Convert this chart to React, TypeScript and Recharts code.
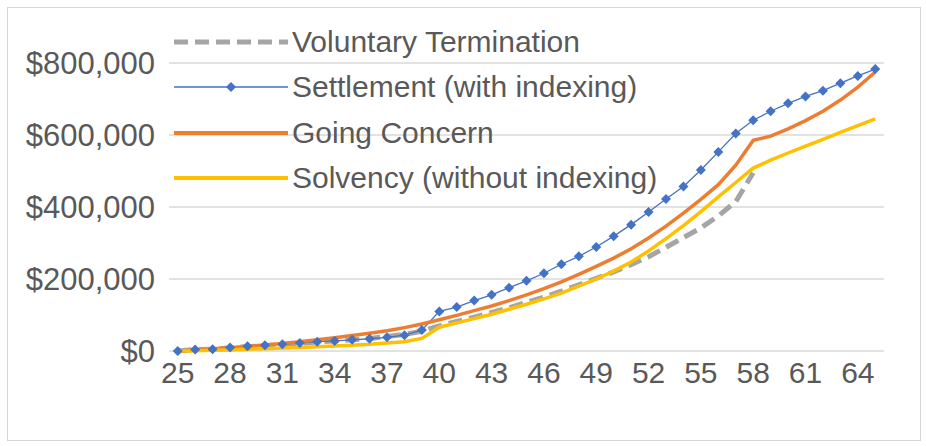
import React from 'react';
import { LineChart, Line, XAxis, YAxis, CartesianGrid, Legend } from 'recharts';

const ages = [
  25, 26, 27, 28, 29, 30, 31, 32, 33, 34, 35, 36, 37, 38, 39, 40, 41, 42, 43, 44, 45,
  46, 47, 48, 49, 50, 51, 52, 53, 54, 55, 56, 57, 58, 59, 60, 61, 62, 63, 64, 65,
];

const voluntary = [
  0, 4000, 5000, 9000, 12000, 15000, 18000, 21000, 25000, 28000, 31000, 35000, 40000, 46000, 55000, 70000,
  82000, 94000, 107000, 120000, 135000, 150000, 166000, 184000, 202000, 220000, 240000, 262000, 288000,
  315000, 342000, 375000, 415000, 495000, null, null, null, null, null, null, null,
];

const settlement = [
  0, 4000, 5000, 10000, 13000, 16000, 19000, 22000, 26000, 28000, 31000, 34000, 38000, 44000, 58000, 110000,
  122000, 140000, 156000, 176000, 195000, 216000, 241000, 263000, 289000, 319000, 351000, 386000, 422000,
  457000, 503000, 553000, 604000, 641000, 666000, 688000, 707000, 723000, 744000, 764000, 783000,
];

const goingConcern = [
  0, 3000, 6000, 9000, 13000, 17000, 21000, 26000, 31000, 37000, 43000, 49000, 56000, 65000, 75000, 87000,
  99000, 112000, 125000, 140000, 156000, 173000, 192000, 213000, 235000, 258000, 284000, 314000, 347000,
  383000, 421000, 462000, 516000, 585000, 597000, 617000, 640000, 666000, 697000, 733000, 775000,
];

const solvency = [
  0, 1000, 2000, 3000, 5000, 6000, 8000, 10000, 12000, 14000, 16000, 19000, 22000, 26000, 35000, 66000,
  78000, 90000, 102000, 116000, 130000, 145000, 161000, 180000, 200000, 222000, 247000, 278000, 312000,
  348000, 387000, 428000, 468000, 508000, 530000, 550000, 569000, 588000, 607000, 626000, 645000,
];

const xTicks = [25, 28, 31, 34, 37, 40, 43, 46, 49, 52, 55, 58, 61, 64];
const yTicks = [0, 200000, 400000, 600000, 800000];

const data = ages.map((age, i) => ({
  age,
  voluntary: voluntary[i],
  settlement: settlement[i],
  goingConcern: goingConcern[i],
  solvency: solvency[i],
}));

const FONT = '"Liberation Sans", Arial, sans-serif';
const TEXT = '#595959';

const Diamond = (props: any) => {
  const { cx, cy, index } = props;
  if (cx == null || cy == null) return <g key={index} />;
  return (
    <polygon
      key={index}
      points={`${cx},${cy - 5} ${cx + 5},${cy} ${cx},${cy + 5} ${cx - 5},${cy}`}
      fill="#4472C4"
    />
  );
};

const legendItems = [
  { name: 'Voluntary Termination', kind: 'dash' },
  { name: 'Settlement (with indexing)', kind: 'marker' },
  { name: 'Going Concern', kind: 'orange' },
  { name: 'Solvency (without indexing)', kind: 'yellow' },
];

const Swatch = ({ kind }: { kind: string }) => {
  return (
    <svg width={118} height={20} style={{ display: 'block' }}>
      {kind === 'dash' && (
        <line x1={2} y1={10} x2={116} y2={10} stroke="#A5A5A5" strokeWidth={5} strokeDasharray="14 7" />
      )}
      {kind === 'marker' && (
        <>
          <line x1={2} y1={10} x2={116} y2={10} stroke="#4472C4" strokeWidth={1.3} />
          <polygon points="59,5 64,10 59,15 54,10" fill="#4472C4" />
        </>
      )}
      {kind === 'orange' && <line x1={2} y1={10} x2={116} y2={10} stroke="#ED7D31" strokeWidth={4} />}
      {kind === 'yellow' && <line x1={2} y1={10} x2={116} y2={10} stroke="#FFC000" strokeWidth={4} />}
    </svg>
  );
};

const renderLegend = () => (
  <div style={{ fontFamily: FONT, fontSize: 30, color: TEXT }}>
    {legendItems.map((it) => (
      <div key={it.name} style={{ display: 'flex', alignItems: 'center', height: 45.5 }}>
        <Swatch kind={it.kind} />
        <span style={{ marginLeft: 2, whiteSpace: 'nowrap' }}>{it.name}</span>
      </div>
    ))}
  </div>
);

const App = () => {
  return (
    <div
      style={{
        position: 'absolute',
        left: 0,
        top: 0,
        width: 926,
        height: 446,
        background: '#fff',
      }}
    >
      <div
        style={{
          position: 'absolute',
          left: 7,
          top: 7,
          width: 912,
          height: 432,
          border: '1px solid #D6D6D6',
        }}
      />
      <LineChart
        width={926}
        height={446}
        data={data}
        margin={{ top: 63, right: 42, bottom: 65, left: 0 }}
      >
        <CartesianGrid vertical={false} stroke="#D9D9D9" strokeWidth={1.5} />
        <XAxis
          dataKey="age"
          type="number"
          domain={[24.5, 65.5]}
          ticks={xTicks}
          axisLine={false}
          tickLine={false}
          tickSize={0}
          tickMargin={11}
          height={30}
          tick={{ fill: TEXT, fontSize: 30, fontFamily: FONT }}
        />
        <YAxis
          domain={[0, 800000]}
          ticks={yTicks}
          width={169}
          axisLine={false}
          tickLine={false}
          tickSize={0}
          tickMargin={14}
          tickFormatter={(v: number) => `$${v.toLocaleString('en-US')}`}
          tick={{ fill: TEXT, fontSize: 31, fontFamily: FONT }}
        />
        <Legend
          layout="vertical"
          align="center"
          verticalAlign="middle"
          content={renderLegend}
          wrapperStyle={{ left: 172, top: 19, width: 520 }}
        />
        <Line
          dataKey="voluntary"
          stroke="#A5A5A5"
          strokeWidth={5}
          strokeDasharray="14 7"
          dot={false}
          isAnimationActive={false}
        />
        <Line
          dataKey="settlement"
          stroke="#4472C4"
          strokeWidth={1.3}
          dot={Diamond}
          activeDot={false}
          isAnimationActive={false}
        />
        <Line
          dataKey="goingConcern"
          stroke="#ED7D31"
          strokeWidth={3.5}
          dot={false}
          isAnimationActive={false}
        />
        <Line
          dataKey="solvency"
          stroke="#FFC000"
          strokeWidth={3.5}
          dot={false}
          isAnimationActive={false}
        />
      </LineChart>
    </div>
  );
};

export default App;
